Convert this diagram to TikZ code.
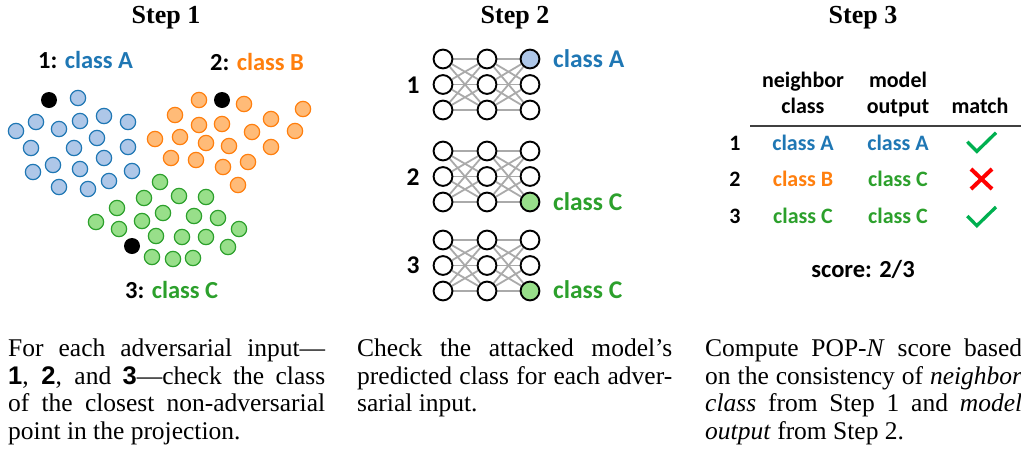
\documentclass[tikz,border=0pt]{standalone}
\usepackage{fontspec}
\setmainfont{Liberation Serif}
\newfontfamily\carl{Carlito}
\newfontfamily\helv{Liberation Sans}
\usetikzlibrary{backgrounds}
\definecolor{cA}{HTML}{1F77B4}
\definecolor{cAf}{HTML}{AEC7E8}
\definecolor{cB}{HTML}{FF7F0E}
\definecolor{cBf}{HTML}{FFBB78}
\definecolor{cC}{HTML}{2CA02C}
\definecolor{cCf}{HTML}{98DF8A}
\definecolor{okc}{HTML}{00B050}
\definecolor{noc}{HTML}{FF0000}
\definecolor{edgec}{HTML}{AAAAAA}
\definecolor{rulec}{HTML}{404040}
\begin{document}
\begin{tikzpicture}[x=1pt,y=-1pt,
  dotA/.style={circle,draw=cA,fill=cAf,line width=1.2pt,minimum size=15.3pt,inner sep=0pt},
  dotB/.style={circle,draw=cB,fill=cBf,line width=1.2pt,minimum size=15.3pt,inner sep=0pt},
  dotC/.style={circle,draw=cC,fill=cCf,line width=1.2pt,minimum size=15.3pt,inner sep=0pt},
  advdot/.style={circle,fill=black,minimum size=16pt,inner sep=0pt},
  neuron/.style={circle,draw=black,line width=1.9pt,fill=white,minimum size=18.8pt,inner sep=0pt},
  nnedge/.style={draw=edgec,line width=1.8pt},
  steptitle/.style={font=\bfseries\fontsize{26}{30}\selectfont,inner sep=0pt,anchor=base},
  lab/.style={font=\carl\bfseries\fontsize{24.5}{28}\selectfont,inner sep=0pt,anchor=base west},
  netlab/.style={font=\carl\bfseries\fontsize{25.5}{28}\selectfont,inner sep=0pt},
  tabtxt/.style={font=\carl\bfseries\fontsize{22}{26}\selectfont,inner sep=0pt,anchor=base},
  capt/.style={font=\fontsize{25.5}{27.7}\selectfont,inner sep=0pt,align=left,anchor=north west},
  okmark/.style={draw=okc,line width=3.3pt},
  nomark/.style={draw=noc,line width=4pt},
  tabrule/.style={draw=rulec,line width=1.5pt}]
\useasboundingbox (0,0) rectangle (1021,448);

% ---------- Step titles
\node[steptitle] (t1) at (166,23) {Step 1};
\node[steptitle] (t2) at (515,23) {Step 2};
\node[steptitle] (t3) at (863,23) {Step 3};

% ---------- Step 1 scatter
\foreach \x/\y [count=\n] in {78/98,16/131,36/122,59/129,80/121,104/116,128/122,31/148,74/148,97/138,128/147,33/172,53/165,80/169,104/158,132/171,59/187,88/189,109/181}
  \node[dotA] (a\n) at (\x,\y) {};
\foreach \x/\y [count=\n] in {199/100,244/104,303/109,175/115,199/125,222/124,271/119,252/132,295/131,155/139,180/137,206/143,229/146,271/147,171/158,196/160,223/167,248/162,238/185}
  \node[dotB] (b\n) at (\x,\y) {};
\foreach \x/\y [count=\n] in {160/182,144/198,179/196,206/197,117/208,163/213,194/216,218/218,96/222,142/221,239/229,119/229,156/236,182/237,206/237,228/247,152/257,173/259,193/258}
  \node[dotC] (c\n) at (\x,\y) {};
\node[advdot] (adv1) at (49,100) {};
\node[advdot] (adv2) at (222,100) {};
\node[advdot] (adv3) at (132,246) {};

\node[lab] (l1) at (38,68) {1: \textcolor{cA}{class A}};
\node[lab] (l2) at (210,70) {2: \textcolor{cB}{class B}};
\node[lab] (l3) at (125,298) {3: \textcolor{cC}{class C}};

% ---------- Step 2 networks
\foreach \k/\y/\hr/\hc in {1/59/1/cAf,2/151/3/cCf,3/240/3/cCf}{
  \foreach \i/\x in {1/443,2/487,3/530}{
    \foreach \r in {1,2,3}{
      \pgfmathtruncatemacro\hl{(\i==3)&&(\r==\hr)}
      \ifnum\hl=1
        \node[neuron,fill=\hc] (n\k-\i-\r) at (\x,{\y+25.5*(\r-1)}) {};
      \else
        \node[neuron] (n\k-\i-\r) at (\x,{\y+25.5*(\r-1)}) {};
      \fi
    }
  }
}
\begin{pgfonlayer}{background}
\foreach \k in {1,2,3}
  \foreach \i/\j in {1/2,2/3}
    \foreach \r in {1,2,3}
      \foreach \s in {1,2,3}
        \draw[nnedge] (n\k-\i-\r) -- (n\k-\j-\s);
\end{pgfonlayer}

\node[netlab,anchor=base] (k1) at (413,93) {1};
\node[netlab,anchor=base] (k2) at (413,185) {2};
\node[netlab,anchor=base] (k3) at (413,273) {3};
\node[netlab,anchor=base west,text=cA] (o1) at (553,67) {class A};
\node[netlab,anchor=base west,text=cC] (o2) at (553,210) {class C};
\node[netlab,anchor=base west,text=cC] (o3) at (553,298) {class C};

% ---------- Step 3 table
\node[tabtxt] (h1a) at (803,87) {neighbor};
\node[tabtxt] (h1b) at (803,113) {class};
\node[tabtxt] (h2a) at (898,87) {model};
\node[tabtxt] (h2b) at (898,113) {output};
\node[tabtxt] (h3) at (980,113) {match};
\coordinate (rl) at (750,126);
\coordinate (rr) at (1021,126);
\draw[tabrule] (rl) -- (rr);

\node[tabtxt] (r1) at (735,150) {1};
\node[tabtxt,text=cA] (r1a) at (803,150) {class A};
\node[tabtxt,text=cA] (r1b) at (898,150) {class A};
\node[tabtxt] (r2) at (735,186.5) {2};
\node[tabtxt,text=cB] (r2a) at (803,186.5) {class B};
\node[tabtxt,text=cC] (r2b) at (898,186.5) {class C};
\node[tabtxt] (r3) at (735,223) {3};
\node[tabtxt,text=cC] (r3a) at (803,223) {class C};
\node[tabtxt,text=cC] (r3b) at (898,223) {class C};

\draw[okmark] (967.3,141.7) -- (976.8,151.4) -- (996,132.7);
\draw[nomark] (971,169) -- (992,189);
\draw[nomark] (992,169) -- (971,189);
\draw[okmark] (967.3,216) -- (976.8,225.7) -- (996,207);

\node[tabtxt,font=\carl\bfseries\fontsize{24.5}{28}\selectfont] (sc) at (863,277) {score: 2/3};

% ---------- Captions
\node[capt] (cap1) at (8,338.5) {\makebox[317pt][s]{For each adversarial input—}\\
\makebox[317pt][s]{{\helv\bfseries 1}, {\helv\bfseries 2}, and {\helv\bfseries 3}—check the class}\\
\makebox[317pt][s]{of the closest non-adversarial}\\
point in the projection.};
\node[capt] (cap2) at (357,338.5) {\makebox[315pt][s]{Check the attacked model’s}\\
\makebox[315pt][s]{predicted class for each adver-}\\
sarial input.};
\node[capt] (cap3) at (705,338.5) {\makebox[317pt][s]{Compute POP-\textit{N} score based}\\
\makebox[317pt][s]{on the consistency of \textit{neighbor}}\\
\makebox[317pt][s]{\textit{class} from Step 1 and \textit{model}}\\
\textit{output} from Step 2.};
\end{tikzpicture}
\end{document}
